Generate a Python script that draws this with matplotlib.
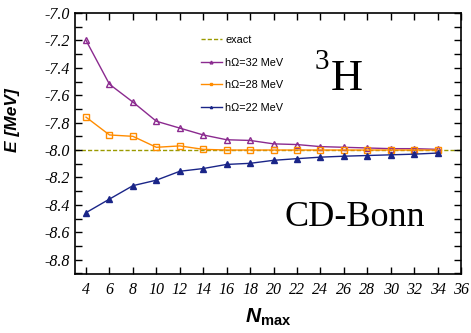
import matplotlib
matplotlib.use("Agg")
import matplotlib.pyplot as plt
from matplotlib.ticker import MultipleLocator

nmax = [4, 6, 8, 10, 12, 14, 16, 18, 20, 22, 24, 26, 28, 30, 32, 34]
e_32 = [-7.20, -7.52, -7.65, -7.79, -7.84, -7.89, -7.925, -7.93, -7.955, -7.96,
        -7.975, -7.98, -7.985, -7.99, -7.99, -7.995]
e_28 = [-7.76, -7.89, -7.90, -7.98, -7.97, -7.995, -8.0, -8.0, -8.0, -8.0,
        -8.0, -8.0, -8.0, -8.0, -8.0, -8.0]
e_22 = [-8.457, -8.358, -8.26, -8.22, -8.155, -8.135, -8.105, -8.097, -8.075, -8.063,
        -8.052, -8.045, -8.04, -8.035, -8.03, -8.022]
e_exact = -8.0

plt.rcParams['mathtext.fontset'] = 'custom'
plt.rcParams['mathtext.it'] = 'Liberation Sans:bold:italic'
plt.rcParams['mathtext.rm'] = 'Liberation Sans:bold'

W, H = 471, 333
fig = plt.figure(figsize=(W / 100, H / 100), dpi=100)
ax = fig.add_axes([0.159, 0.177, 0.820, 0.784])

ax.axhline(e_exact, color='#9a9a00', lw=1.0, ls=(0, (3, 1.5)), label='exact', zorder=1)
ax.plot(nmax, e_32, color='#8b2a8f', lw=1.0, marker='^', mfc='none', mec='#8b2a8f',
        ms=5, mew=1.0, label='h\u03a9=32 MeV', zorder=3)
ax.plot(nmax, e_28, color='#ff8c00', lw=1.0, marker='s', mfc='none', mec='#ff8c00',
        ms=5, mew=1.0, label='h\u03a9=28 MeV', zorder=3)
ax.plot(nmax, e_22, color='#1a2588', lw=1.0, marker='^', mfc='#1a2588', mec='#1a2588',
        ms=4, label='h\u03a9=22 MeV', zorder=3)

ax.set_xlim(3.05, 36)
ax.set_ylim(-8.905, -7.0)
ax.yaxis.set_major_locator(MultipleLocator(0.2))
ax.yaxis.set_minor_locator(MultipleLocator(0.1))
ax.set_xticks(range(4, 37, 2))
ax.tick_params(which='both', direction='in', top=True, right=True, width=1.0)
ax.tick_params(which='major', length=5)
ax.tick_params(which='minor', length=5)
ax.tick_params(axis='x', pad=6)
ax.yaxis.set_major_formatter(matplotlib.ticker.FuncFormatter(lambda v, p: f'{v:.1f}'))
for lab in ax.get_xticklabels() + ax.get_yticklabels():
    lab.set_fontfamily('Liberation Serif')
    lab.set_fontstyle('italic')
    lab.set_fontsize(11.5)
for sp in ax.spines.values():
    sp.set_linewidth(1.2)

ax.set_ylabel('E [MeV]', fontfamily='Liberation Sans', fontweight='bold',
              fontstyle='italic', fontsize=12.5)
ax.yaxis.set_label_coords(-0.142, 0.59)
ax.set_xlabel(r'$N_{\rm max}$', fontsize=15, labelpad=6)

leg = ax.legend(loc='upper left', bbox_to_anchor=(0.3, 0.952), frameon=False,
                prop={'family': 'Liberation Sans', 'size': 7.8}, handlelength=2.0,
                labelspacing=1.15, handletextpad=0.3, markerscale=0.4)

def fpos(px, py):
    return px / W, 1 - py / H

fig.text(*fpos(315, 62), '3', fontfamily='Liberation Serif',
         fontsize=21, ha='left', va='center')
fig.text(*fpos(331, 79), 'H', fontfamily='Liberation Serif',
         fontsize=32, ha='left', va='center')
fig.text(*fpos(355, 218), 'CD-Bonn', fontfamily='Liberation Serif',
         fontsize=26, ha='center', va='center')

fig.savefig('out.png', dpi=100)
